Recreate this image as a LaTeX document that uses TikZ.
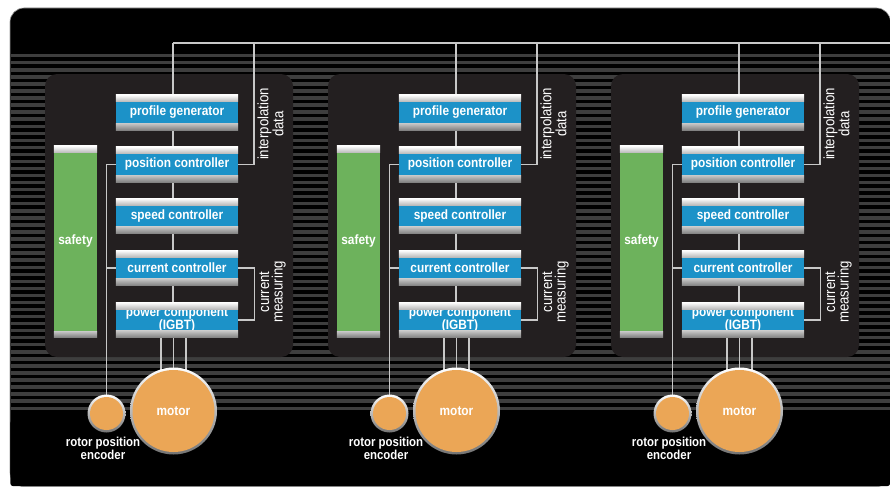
\documentclass[tikz,border=0pt]{standalone}
\usepackage{fontspec}
\setmainfont{Liberation Sans}
\newfontfamily\narrowsf{Liberation Sans}[FakeStretch=0.88]
\usetikzlibrary{calc}
\pgfdeclarelayer{back}
\pgfdeclarelayer{wires}
\pgfsetlayers{back,wires,main}

\definecolor{ctlblue}{RGB}{28,146,200}
\definecolor{safegreen}{RGB}{109,178,92}
\definecolor{motorfill}{RGB}{235,166,86}
\definecolor{panelcol}{RGB}{35,31,32}
\definecolor{stripecol}{RGB}{62,62,62}
\definecolor{wirecol}{RGB}{200,200,200}

\tikzset{
  x=1pt, y=-1pt,
  ctl/.style={rectangle, fill=ctlblue, minimum width=122pt, minimum height=35pt,
    inner sep=0pt, text=white, align=center,
    font=\narrowsf\bfseries\fontsize{13.5}{11}\selectfont},
  safe/.style={rectangle, fill=safegreen, minimum width=43pt, minimum height=191pt,
    inner sep=0pt, text=white, font=\narrowsf\bfseries\fontsize{13.5}{12}\selectfont},
  wire/.style={draw=wirecol, line width=1.2pt},
  vlabel/.style={rotate=90, text=white, align=center, inner sep=0pt,
    font=\narrowsf\fontsize{15}{13.5}\selectfont},
  motorbody/.style={circle, fill=motorfill, minimum size=82pt, inner sep=0pt,
    text=white, font=\narrowsf\bfseries\fontsize{13.5}{12}\selectfont},
  encbody/.style={circle, fill=motorfill, minimum size=33pt, inner sep=0pt},
  caption/.style={text=white, align=center, inner sep=0pt,
    font=\narrowsf\bfseries\fontsize{13}{12}\selectfont},
  topbar/.style={top color=white, bottom color=black!28},
  lowbar/.style={top color=black!22, middle color=white!92!black, bottom color=black!50},
  rim/.style={top color=white, bottom color=black!55},
}

% controller box with a light top strip and a grey bottom strip
\newcommand\barbox[4]{%
  \node[ctl] (#1) at (#2,#3) {#4};
  \shade[topbar] (#1.north west) rectangle ([yshift=-7pt]#1.north east);
  \shade[lowbar] ([yshift=7pt]#1.south west) rectangle (#1.south east);
}

\begin{document}
\begin{tikzpicture}
\useasboundingbox (0,0) rectangle (890,487);

\begin{pgfonlayer}{back}
  \fill[white] (0,0) rectangle (890,487);
  % cabinet background
  \filldraw[fill=black, draw=black!40, line width=0.6pt, rounded corners=14pt]
    (10,8) rectangle (890.5,486.5);
  \fill[black, rounded corners=3pt] (10.3,420) rectangle (890.2,486.2);
  % horizontal grille
  \foreach \k in {0,...,50}
    \fill[stripecol] (10.5,{54+7.05*\k}) rectangle (890,{57.4+7.05*\k});
\end{pgfonlayer}

\coordinate (busL) at (173,43);
\coordinate (busR) at (890,43);
\begin{pgfonlayer}{wires}
  \draw[wire] (busL) -- (busR);
\end{pgfonlayer}

\foreach \i/\dx in {1/0,2/283,3/566} {
  \begin{pgfonlayer}{back}
    \fill[panelcol, rounded corners=12pt] (45+\dx,74) rectangle (293+\dx,357);
  \end{pgfonlayer}

  \barbox{pg\i}{177+\dx}{112.5}{profile generator}
  \barbox{pc\i}{177+\dx}{164.5}{position controller}
  \barbox{sc\i}{177+\dx}{216}{speed controller}
  \barbox{cc\i}{177+\dx}{268}{current controller}
  \barbox{pw\i}{177+\dx}{320}{power component\\(IGBT)}

  \node[safe] (sf\i) at (75.5+\dx,241.5) {safety};
  \shade[topbar] (sf\i.north west) rectangle ([yshift=-7pt]sf\i.north east);
  \shade[lowbar] ([yshift=6pt]sf\i.south west) rectangle (sf\i.south east);

  \node[vlabel] (il\i) at (270.5+\dx,124) {interpolation\\data};
  \node[vlabel] (cl\i) at (272.5+\dx,292) {current\\measuring};

  \shade[rim] (173.5+\dx,411) circle (43.5pt);
  \node[motorbody] (mo\i) at (173.5+\dx,411) {motor};
  \shade[rim] (106.5+\dx,413.5) circle (19pt);
  \node[encbody] (en\i) at (106.5+\dx,413.5) {};
  \node[caption] (ec\i) at (103+\dx,448) {rotor position\\encoder};

  \coordinate (ip\i) at (254+\dx,43);

  \begin{pgfonlayer}{wires}
    \draw[wire] ([xshift=-4pt]pg\i.north) -- ([xshift=-4pt]pg\i.north |- busL);
    \foreach \a/\b in {pg/pc,pc/sc,sc/cc,cc/pw}
      \draw[wire] ([xshift=-4pt]\a\i.south) -- ([xshift=-4pt]\b\i.north);
    \draw[wire] (pc\i.east) -| (ip\i);
    \draw[wire] (cc\i.east) -- ++(16,0) |- (pw\i.east);
    \draw[wire] (pc\i.west) -| (en\i);
    \draw[wire] (cc\i.west) -- (cc\i.west -| en\i);
    \foreach \s in {-12.5,0,12.5}
      \draw[wire] ($(mo\i.center |- pw\i.south)+(\s,0)$) -- ($(mo\i.center)+(\s,0)$);
  \end{pgfonlayer}
}
\end{tikzpicture}
\end{document}
